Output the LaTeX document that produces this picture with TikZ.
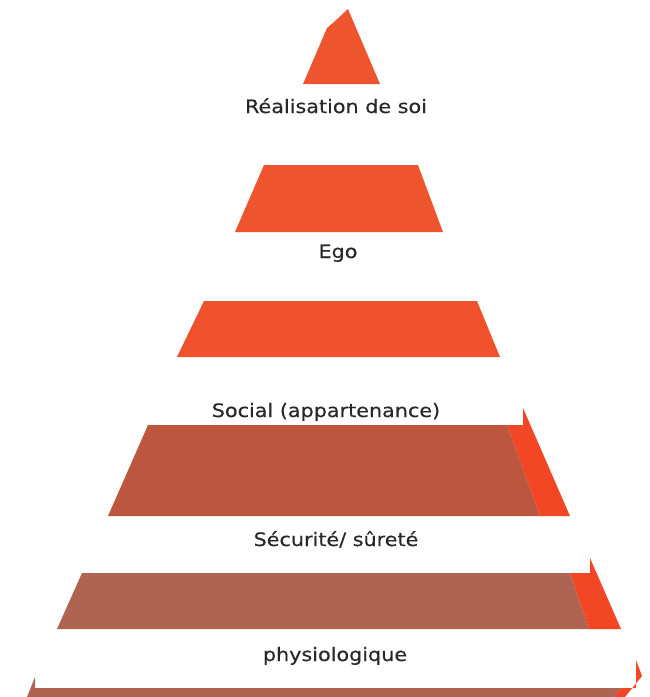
\documentclass[tikz,border=0pt]{standalone}
\usepackage{fontspec}
\setmainfont[FakeStretch=1.12,FakeBold=0.4]{DejaVu Sans}
\usepackage{tikz}
\usetikzlibrary{positioning}
\definecolor{pyrorange}{RGB}{238,84,46}
\definecolor{pyrred}{RGB}{242,70,36}
\definecolor{pyrbrown}{RGB}{188,86,62}
\definecolor{pyrbrowndk}{RGB}{174,100,80}
\definecolor{labelgray}{RGB}{40,40,40}
\tikzset{levellabel/.style={font=\fontsize{18.5}{20}\selectfont,text=labelgray,inner sep=0pt,anchor=base}}

\begin{document}
\begin{tikzpicture}[x=1pt,y=-1pt,line join=round]
  \useasboundingbox (0,0) rectangle (649,697);
  % --- upper levels: plain orange shapes ---
  % top triangle
  \fill[pyrorange] (303,84) -- (327,28) -- (334,22) -- (348,9) -- (380,84) -- cycle;
  % second level
  \fill[pyrorange] (264,165) -- (418,165) -- (443,232) -- (235,232) -- cycle;
  % third level
  \fill[pyrorange!96!red] (204,301) -- (477,301) -- (500,357) -- (177,357) -- cycle;
  % --- lower levels: bright side strip first, brown face over it ---
  % fourth level
  \fill[pyrred] (507,425) -- (523,425) -- (523,408) -- (570,516) -- (540,516) -- cycle;
  \fill[pyrbrown] (148,425) -- (507,425) -- (540,516) -- (108,516) -- cycle;
  % fifth level
  \fill[pyrred] (570,573) -- (590,573) -- (590,558) -- (621,629) -- (589,629) -- cycle;
  \fill[pyrbrowndk] (82,573) -- (570,573) -- (589,629) -- (57,629) -- cycle;
  % base level, cut by the lower edge
  \fill[pyrred] (621,688) -- (636,688) -- (636,660) -- (642,676) -- (625,697) -- (614,697) -- cycle;
  \fill[pyrbrowndk] (35,677) -- (35,688) -- (621,688) -- (614,697) -- (27,697) -- cycle;
  % --- labels between the levels ---
  \node[levellabel] (lblself)   at (336,113) {Réalisation de soi};
  \node[levellabel] (lblego)    at (338,258) {Ego};
  \node[levellabel] (lblsocial) at (326,417) {Social (appartenance)};
  \node[levellabel] (lblsafety) at (336,546) {Sécurité/ sûreté};
  \node[levellabel] (lblbody)   at (335,661) {physiologique};
\end{tikzpicture}
\end{document}
